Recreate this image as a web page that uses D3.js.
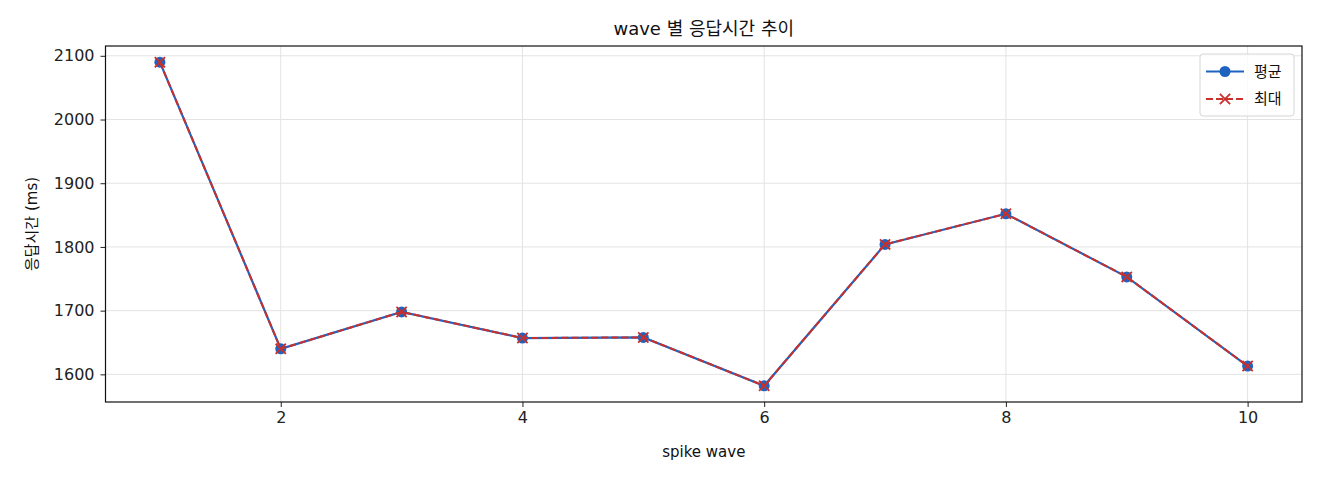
<!DOCTYPE html>
<html>
<head>
<meta charset="utf-8">
<script src="https://cdn.jsdelivr.net/npm/d3@7"></script>
<style>
  body { margin: 0; background: #fff; }
  svg { font-family: "DejaVu Sans", "Noto Sans CJK KR", sans-serif; }
</style>
</head>
<body>
<div id="chart"></div>
<script>
// data
const waves = [1, 2, 3, 4, 5, 6, 7, 8, 9, 10];
const avgMs = [2090, 1640, 1698, 1657, 1658, 1582, 1804, 1852, 1753, 1613];
const maxMs = [2090, 1640, 1698, 1657, 1658, 1582, 1804, 1852, 1753, 1613];
const xTicks = [2, 4, 6, 8, 10];
const yTicks = [1600, 1700, 1800, 1900, 2000, 2100];

const width = 1320, height = 480;
const margins = { left: 105.5, right: 18, top: 46, bottom: 78 };
const chartWidth = width - margins.left - margins.right;
const chartHeight = height - margins.top - margins.bottom;

const blue = "#1f63c0";
const red = "#c9302c";

// matplotlib style 5% padding
function padded(lo, hi) {
  const p = (hi - lo) * 0.05;
  return [lo - p, hi + p];
}

const xScale = d3.scaleLinear()
  .domain(padded(d3.min(waves), d3.max(waves)))
  .range([0, chartWidth]);

const allVals = avgMs.concat(maxMs);
const yScale = d3.scaleLinear()
  .domain(padded(d3.min(allVals), d3.max(allVals)))
  .range([chartHeight, 0]);

const svg = d3.select("#chart").append("svg")
  .attr("width", width)
  .attr("height", height);

const mainG = svg.append("g")
  .attr("transform", `translate(${margins.left}, ${margins.top})`);

// grid
mainG.append("g").selectAll("line").data(xTicks).enter().append("line")
  .attr("x1", d => xScale(d)).attr("x2", d => xScale(d))
  .attr("y1", 0).attr("y2", chartHeight)
  .attr("stroke", "#e3e3e3").attr("stroke-width", 1);
mainG.append("g").selectAll("line").data(yTicks).enter().append("line")
  .attr("x1", 0).attr("x2", chartWidth)
  .attr("y1", d => yScale(d)).attr("y2", d => yScale(d))
  .attr("stroke", "#e3e3e3").attr("stroke-width", 1);

// axes
const xAxis = d3.axisBottom(xScale).tickValues(xTicks).tickFormat(d3.format("d")).tickSize(5).tickPadding(5);
const yAxis = d3.axisLeft(yScale).tickValues(yTicks).tickFormat(d3.format("d")).tickSize(5).tickPadding(6);

const gx = mainG.append("g")
  .attr("transform", `translate(0, ${chartHeight})`)
  .call(xAxis);
const gy = mainG.append("g").call(yAxis);
[gx, gy].forEach(g => {
  g.select(".domain").remove();
  g.selectAll("line").attr("stroke", "#222");
  g.selectAll("text").attr("fill", "#222")
    .style("font-family", "DejaVu Sans").style("font-size", "16px");
});

// frame
mainG.append("rect")
  .attr("width", chartWidth).attr("height", chartHeight)
  .attr("fill", "none").attr("stroke", "#111").attr("stroke-width", 1.2);

const line = d3.line().x(d => xScale(d[0])).y(d => yScale(d[1]));
const avgPts = waves.map((w, i) => [w, avgMs[i]]);
const maxPts = waves.map((w, i) => [w, maxMs[i]]);

// 평균 series
mainG.append("path").datum(avgPts)
  .attr("d", line).attr("fill", "none")
  .attr("stroke", blue).attr("stroke-width", 2.2);
mainG.selectAll(".dot").data(avgPts).enter().append("circle")
  .attr("class", "dot")
  .attr("cx", d => xScale(d[0])).attr("cy", d => yScale(d[1]))
  .attr("r", 5.5).attr("fill", blue);

// 최대 series
mainG.append("path").datum(maxPts)
  .attr("d", line).attr("fill", "none")
  .attr("stroke", red).attr("stroke-width", 2)
  .attr("stroke-dasharray", "7,3");
const cross = d3.symbol().type(d3.symbolX).size(70);
mainG.selectAll(".xmark").data(maxPts).enter().append("path")
  .attr("class", "xmark")
  .attr("d", cross)
  .attr("transform", d => `translate(${xScale(d[0])}, ${yScale(d[1])})`)
  .attr("fill", "none").attr("stroke", red).attr("stroke-width", 1.8);

// titles
svg.append("text")
  .attr("x", margins.left + chartWidth / 2).attr("y", 35)
  .attr("text-anchor", "middle")
  .style("font-size", "18px").attr("fill", "#111")
  .text("wave 별 응답시간 추이");
svg.append("text")
  .attr("x", margins.left + chartWidth / 2).attr("y", 457)
  .attr("text-anchor", "middle")
  .style("font-size", "15px").attr("fill", "#111")
  .text("spike wave");
svg.append("text")
  .attr("transform", `translate(37, ${margins.top + chartHeight / 2}) rotate(-90)`)
  .attr("text-anchor", "middle")
  .style("font-size", "15px").attr("fill", "#111")
  .text("응답시간 (ms)");

// legend
const legend = svg.append("g").attr("transform", "translate(1200, 54)");
legend.append("rect")
  .attr("width", 94).attr("height", 62).attr("rx", 3)
  .attr("fill", "#fff").attr("fill-opacity", 0.8)
  .attr("stroke", "#d5d5d5");
const items = [
  { name: "평균", color: blue, dash: null, mark: "dot" },
  { name: "최대", color: red, dash: "7,3", mark: "x" }
];
items.forEach((it, i) => {
  const y = 17.5 + i * 27.5;
  const g = legend.append("g").attr("transform", `translate(0, ${y})`);
  g.append("line").attr("x1", 6).attr("x2", 44).attr("y1", 0).attr("y2", 0)
    .attr("stroke", it.color).attr("stroke-width", 2)
    .attr("stroke-dasharray", it.dash);
  if (it.mark === "dot") {
    g.append("circle").attr("cx", 25).attr("cy", 0).attr("r", 5.5).attr("fill", it.color);
  } else {
    g.append("path").attr("d", cross).attr("transform", "translate(25,0)")
      .attr("fill", "none").attr("stroke", it.color).attr("stroke-width", 1.8);
  }
  g.append("text").attr("x", 54).attr("y", 5)
    .style("font-size", "15px").attr("fill", "#111")
    .text(it.name);
});
</script>
</body>
</html>
